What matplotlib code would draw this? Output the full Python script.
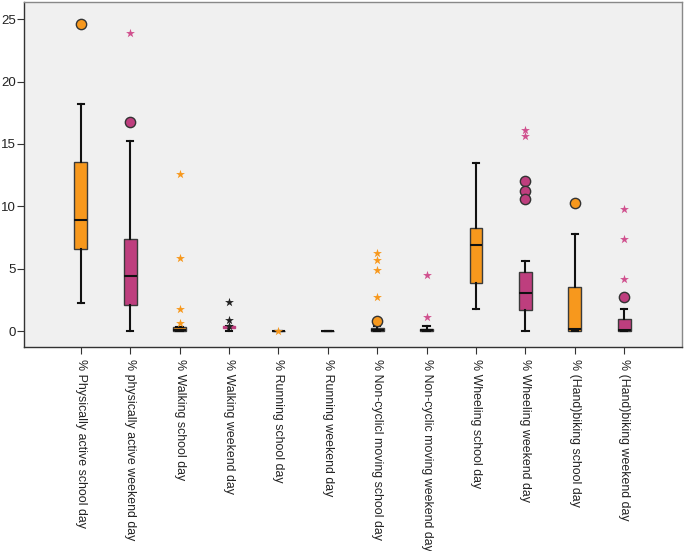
import matplotlib
matplotlib.use("Agg")
import matplotlib.pyplot as plt

plt.rcParams["font.family"] = ["Liberation Sans", "DejaVu Sans"]

labels = ["% Physically active school day", "% physically active weekend day",
          "% Walking school day", "% Walking weekend day",
          "% Running school day", "% Running weekend day",
          "% Non-cyclicl moving school day", "% Non-cyclic moving weekend day",
          "% Wheeling school day", "% Wheeling weekend day",
          "% (Hand)biking school day", "% (Hand)biking weekend day"]
whislo = [2.27, 0.0, 0.0, 0.0, 0.0, 0.0, 0.0, 0.0, 1.79, 0.0, 0.0, 0.0]
q1     = [6.57, 2.06, 0.0, 0.28, 0.0, 0.0, 0.0, 0.0, 3.85, 1.66, 0.05, 0.0]
med    = [8.90, 4.38, 0.10, 0.33, 0.0, 0.0, 0.12, 0.08, 6.87, 3.05, 0.20, 0.10]
q3     = [13.57, 7.35, 0.35, 0.40, 0.0, 0.0, 0.25, 0.20, 8.23, 4.75, 3.50, 0.94]
whishi = [18.2, 15.25, 0.35, 0.40, 0.0, 0.0, 0.45, 0.45, 13.46, 5.66, 7.75, 1.79]
circles = [[24.6], [16.8], [], [], [], [], [0.85], [], [], [12.07, 11.27, 10.58], [10.28], [2.7]]
stars = [[], [23.9], [12.58, 5.85, 1.79, 0.67], [2.35, 0.93, 0.45], [0.0], [],
         [6.3, 5.69, 4.89, 2.75], [4.54, 1.15], [], [16.1, 15.6], [], [9.75, 7.35, 4.19]]

ORANGE = "#F7981D"
MAGENTA = "#BE3E7E"
colors = [ORANGE, MAGENTA] * 6
star_colors = [ORANGE, "#D0508E", ORANGE, "#222222", ORANGE, "#222222",
               ORANGE, "#D0508E", ORANGE, "#D0508E", ORANGE, "#D0508E"]

fig = plt.figure(figsize=(6.85, 5.51), dpi=100)
ax = fig.add_axes([0.035, 0.37, 0.9605, 0.626])
ax.set_facecolor("#F0F0F0")

pos = list(range(1, 13))
stats = []
for i in range(12):
    stats.append(dict(whislo=whislo[i], q1=q1[i], med=med[i], q3=q3[i],
                      whishi=whishi[i], fliers=[], label=labels[i]))
bp = ax.bxp(stats, positions=pos, widths=0.26, patch_artist=True,
            showfliers=False,
            boxprops=dict(edgecolor="#3a3a3a", linewidth=1.0),
            medianprops=dict(color="#111111", linewidth=1.5),
            whiskerprops=dict(color="#111111", linewidth=1.5),
            capprops=dict(color="#111111", linewidth=1.5))
for b, c in zip(bp["boxes"], colors):
    b.set_facecolor(c)
# Walking weekend day median in magenta
bp["medians"][3].set_color(MAGENTA)
bp["boxes"][3].set_edgecolor(MAGENTA)

for i in range(12):
    if circles[i]:
        ax.scatter([pos[i]] * len(circles[i]), circles[i], s=55, marker="o",
                   facecolor=colors[i], edgecolor="#333333", linewidth=1.0, zorder=4)
    if stars[i]:
        ax.scatter([pos[i]] * len(stars[i]), stars[i], s=45, marker="*",
                   color=star_colors[i], linewidth=0, zorder=4)

ax.set_xlim(-0.15, 13.17)
ax.set_ylim(-1.28, 26.36)
ax.set_yticks([0, 5, 10, 15, 20, 25])
ax.set_xticks(pos)
ax.set_xticklabels(labels, rotation=270, fontsize=8.9, va="top", ha="center")
ax.tick_params(axis="y", labelsize=9.5, length=5, pad=1, color="#333333", labelcolor="#222222")
ax.tick_params(axis="x", length=5, color="#333333", labelcolor="#222222")
for s in ["left", "bottom"]:
    ax.spines[s].set_color("#333333")
    ax.spines[s].set_linewidth(1.0)
for s in ["top", "right"]:
    ax.spines[s].set_color("#888888")
    ax.spines[s].set_linewidth(1.0)

fig.savefig("out.png", dpi=100)
